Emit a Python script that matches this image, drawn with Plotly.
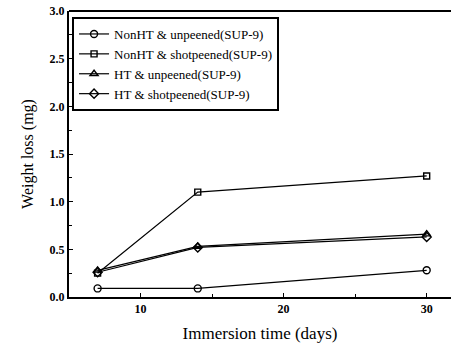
import plotly.graph_objects as go

days = [7, 14, 30]
nonht_unpeened = [0.09, 0.09, 0.28]
nonht_shotpeened = [0.25, 1.10, 1.27]
ht_unpeened = [0.28, 0.53, 0.66]
ht_shotpeened = [0.26, 0.52, 0.63]

names = ["NonHT & unpeened(SUP-9)", "NonHT & shotpeened(SUP-9)",
         "HT & unpeened(SUP-9)", "HT & shotpeened(SUP-9)"]
series = [nonht_unpeened, nonht_shotpeened, ht_unpeened, ht_shotpeened]
symbols = ["circle-open", "square-open", "triangle-up-open", "diamond-open"]
sizes = [7, 6, 7, 7]

font = "Liberation Serif, Times New Roman, serif"
fig = go.Figure()
for nm, ys, sym, sz in zip(names, series, symbols, sizes):
    fig.add_trace(go.Scatter(
        x=days, y=ys, name=nm, mode="lines+markers",
        line=dict(color="black", width=1.2),
        marker=dict(symbol=sym, size=sz, color="black", line=dict(width=1.4, color="black")),
    ))

fig.update_layout(
    width=451, height=348,
    margin=dict(l=69, r=0, t=11, b=51),
    plot_bgcolor="white", paper_bgcolor="white",
    font=dict(family=font, color="black", size=12),
    showlegend=True,
    legend=dict(
        x=0.008, y=0.979, xanchor="left", yanchor="top",
        bordercolor="black", borderwidth=2, bgcolor="white",
        font=dict(family=font, size=13, color="black"),
        tracegroupgap=0, itemwidth=30,
    ),
    xaxis=dict(
        range=[5, 31.7], tickvals=[10, 20, 30], ticks="inside", ticklen=4,
        tickwidth=1, tickcolor="black", showgrid=False, zeroline=False,
        showline=True, linecolor="black", linewidth=2,
        tickfont=dict(family=font, size=12, color="black", weight="bold"),
        minor=dict(tickvals=[5, 15, 25], ticks="inside", ticklen=3, tickcolor="black"),
        title=dict(text="Immersion time (days)", font=dict(family=font, size=17), standoff=12),
    ),
    yaxis=dict(
        range=[0, 3.0], tickvals=[0, 0.5, 1.0, 1.5, 2.0, 2.5, 3.0],
        ticktext=["0.0", "0.5", "1.0", "1.5", "2.0", "2.5", "3.0"],
        ticks="inside", ticklen=4, tickwidth=1, tickcolor="black",
        showgrid=False, zeroline=False,
        showline=True, linecolor="black", linewidth=2,
        tickfont=dict(family=font, size=12, color="black", weight="bold"),
        minor=dict(tickvals=[0.25, 0.75, 1.25, 1.75, 2.25, 2.75], ticks="inside", ticklen=3, tickcolor="black"),
        title=dict(text="Weight loss (mg)", font=dict(family=font, size=16), standoff=12),
    ),
    shapes=[dict(type="line", xref="paper", yref="paper", x0=0, x1=1, y0=1, y1=1,
                 line=dict(color="black", width=2))],
)

fig.write_html("out.html")
